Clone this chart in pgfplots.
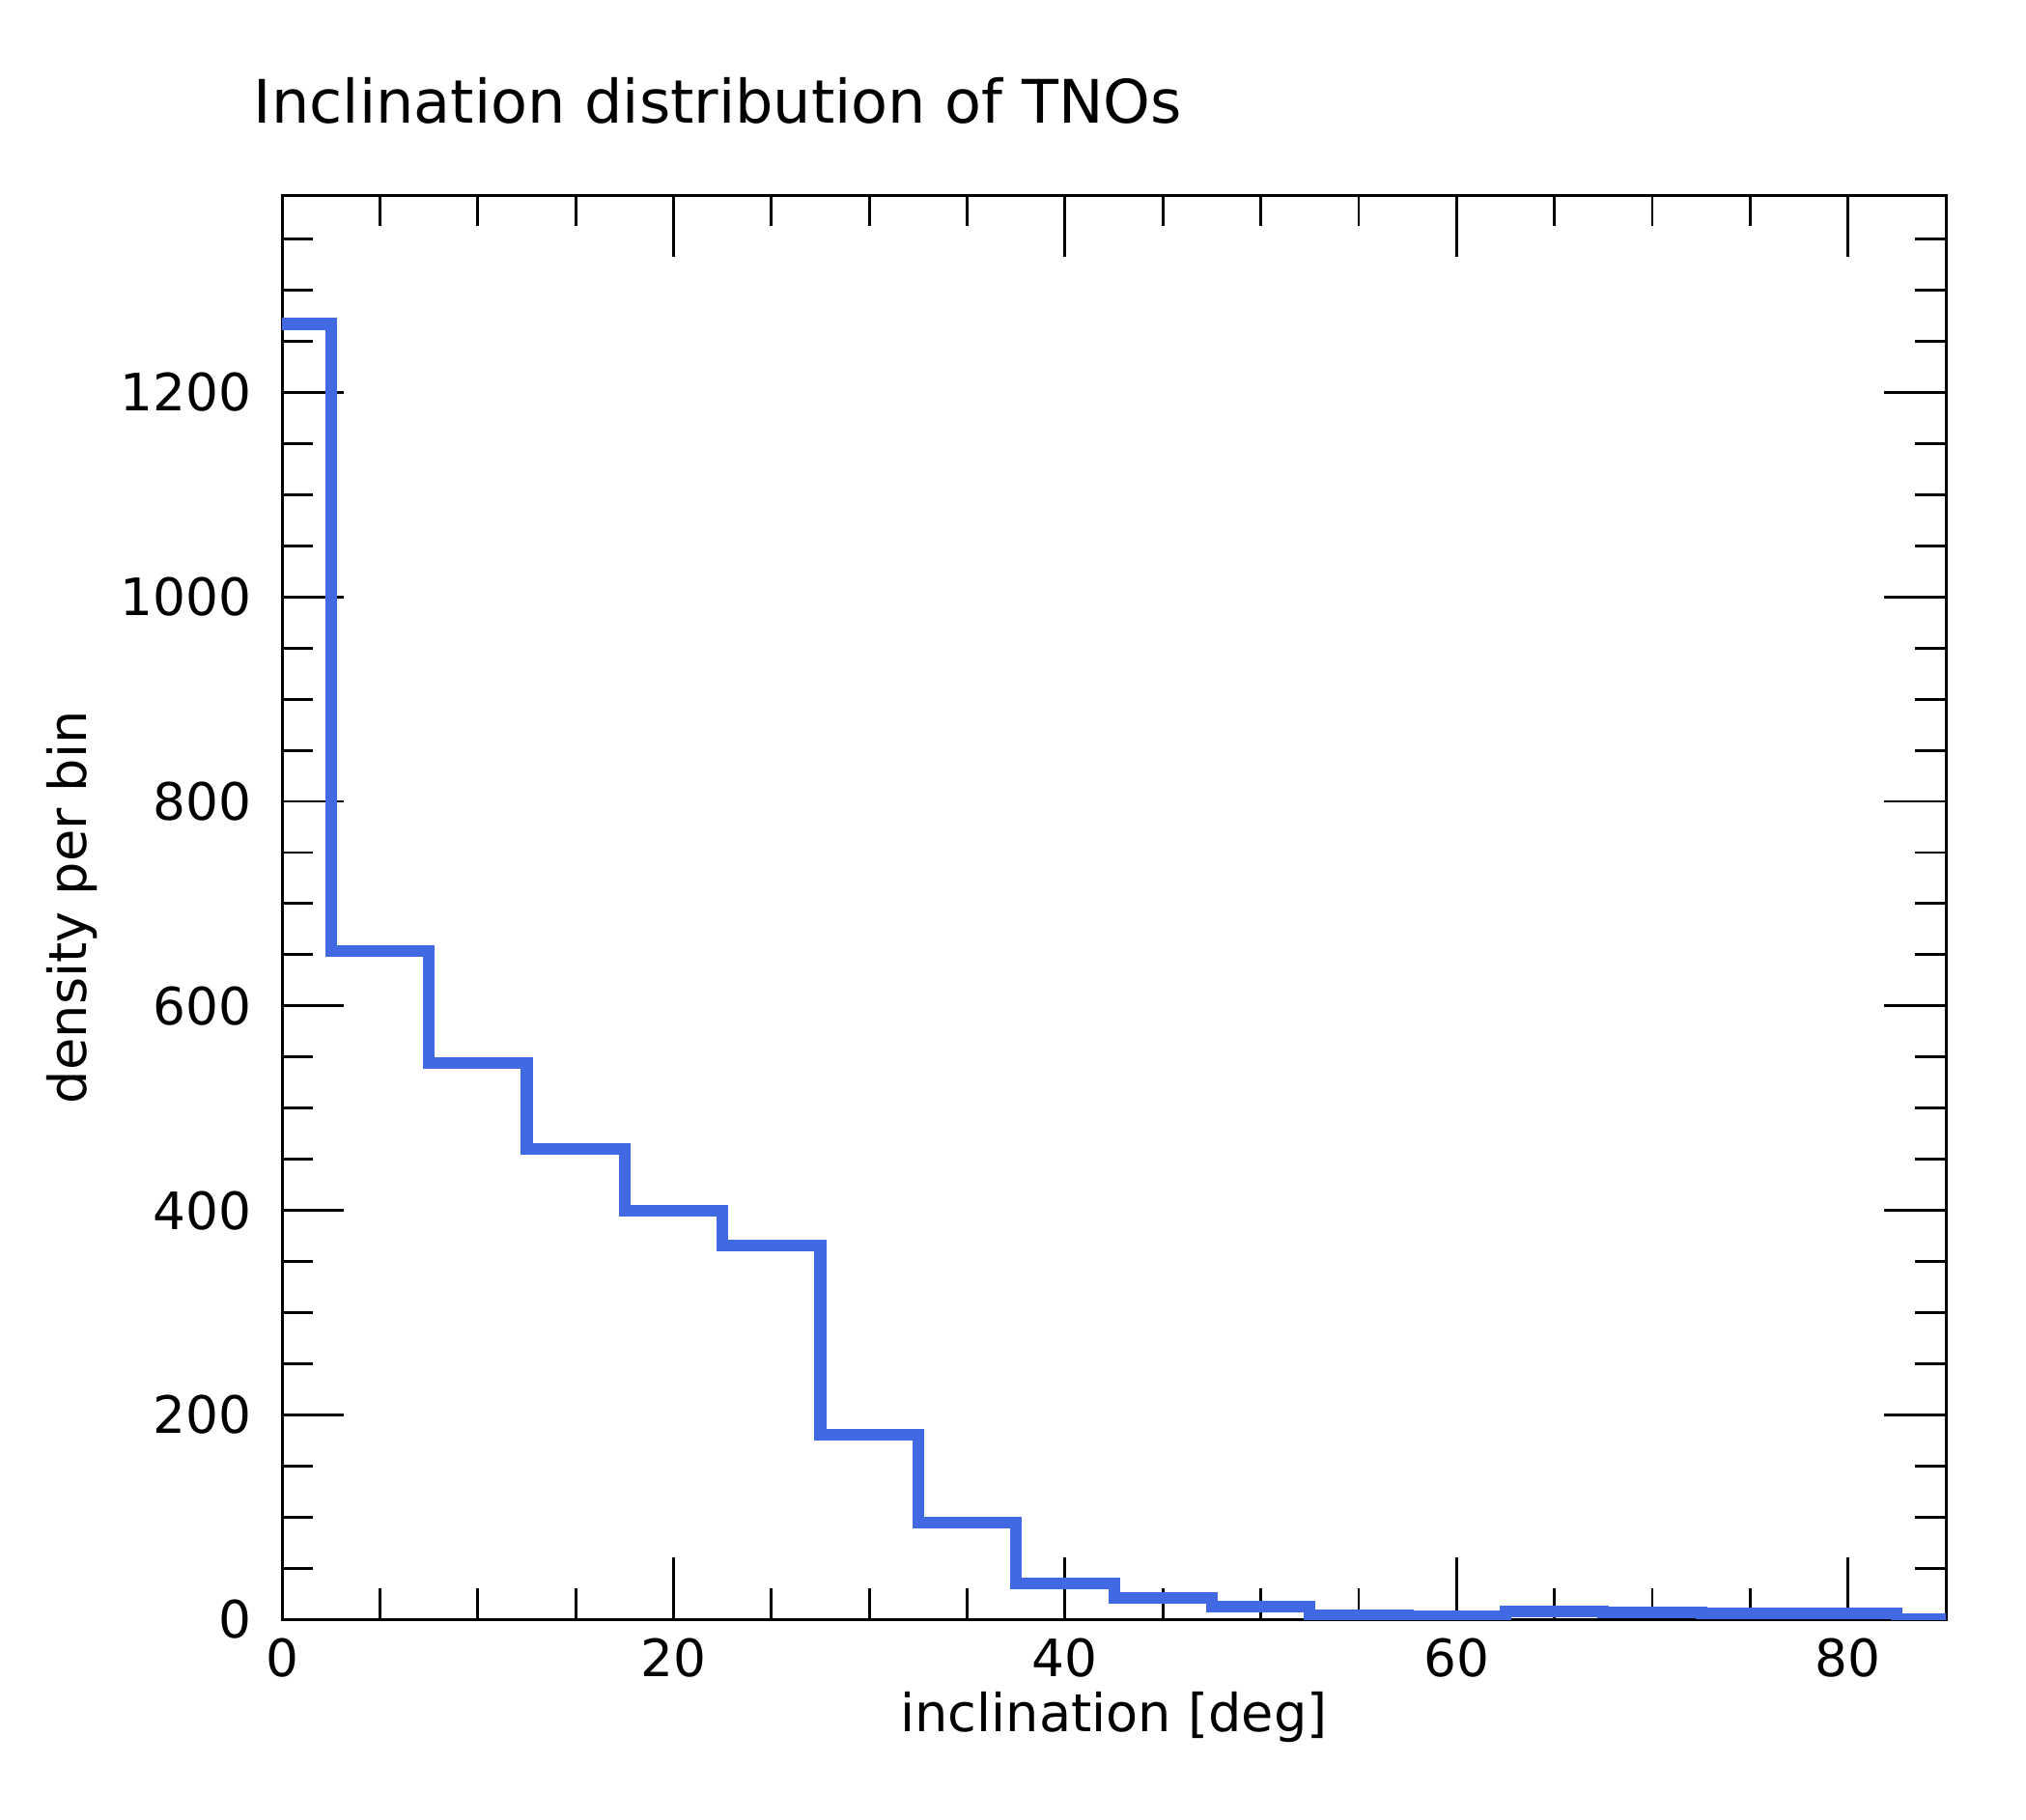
\documentclass[border=0pt]{standalone}
\usepackage{fontspec}
\setmainfont{DejaVu Sans}
\usepackage{pgfplots}
\pgfplotsset{compat=1.18}
\definecolor{royalblue}{RGB}{65,105,225}
\begin{document}
\begin{tikzpicture}
\begin{axis}[
  scale only axis,
  width=413.5bp, height=354bp,
  xmin=0, xmax=85, ymin=0, ymax=1393,
  xtick={0,20,40,60,80},
  minor xtick={5,10,15,25,30,35,45,50,55,65,70,75},
  ytick={0,200,400,600,800,1000,1200},
  minor ytick={50,100,150,250,300,350,450,500,550,650,700,750,850,900,950,1050,1100,1150,1250,1300,1350},
  tick align=inside,
  xtick pos=both, ytick pos=both,
  major tick length=15.4bp, minor tick length=7.7bp,
  every tick/.style={black, line width=0.7bp},
  axis line style={line width=0.7bp},
  /pgf/number format/assume math mode=true,
  /pgf/number format/1000 sep={},
  ticklabel style={font=\fontsize{12.8bp}{15bp}\selectfont},
  xticklabel style={inner sep=0pt, anchor=north, yshift=-4.5bp},
  yticklabel style={inner sep=0pt, anchor=east, xshift=-7.4bp},
]
\addplot[const plot mark left, royalblue, line width=2.9bp, line join=miter] coordinates {
  (-2.5,1267) (2.5,654) (7.5,544) (12.5,460) (17.5,400) (22.5,365.5)
  (27.5,180.5) (32.5,94.5) (37.5,35) (42.5,21) (47.5,12.5) (52.5,4)
  (57.5,3) (62.5,7.5) (67.5,6.6) (72.5,5.7) (77.5,5.7) (82.5,0) (87.5,0)
};
\end{axis}
\node[anchor=base west, inner sep=0pt, font=\fontsize{14.9bp}{18bp}\selectfont]
  at ([xshift=-7.2bp, yshift=17.8bp]current axis.north west) {Inclination distribution of TNOs};
\node[anchor=base, inner sep=0pt, font=\fontsize{13bp}{15bp}\selectfont]
  at ([yshift=-27.8bp]current axis.south) {inclination [deg]};
\node[anchor=base, rotate=90, inner sep=0pt, font=\fontsize{13bp}{15bp}\selectfont]
  at ([xshift=-48.6bp]current axis.west) {density per bin};
\path ([shift={(-70.1bp,-49.7bp)}]current axis.south west);
\path ([shift={(19.9bp,48.5bp)}]current axis.north east);
\end{tikzpicture}
\end{document}
